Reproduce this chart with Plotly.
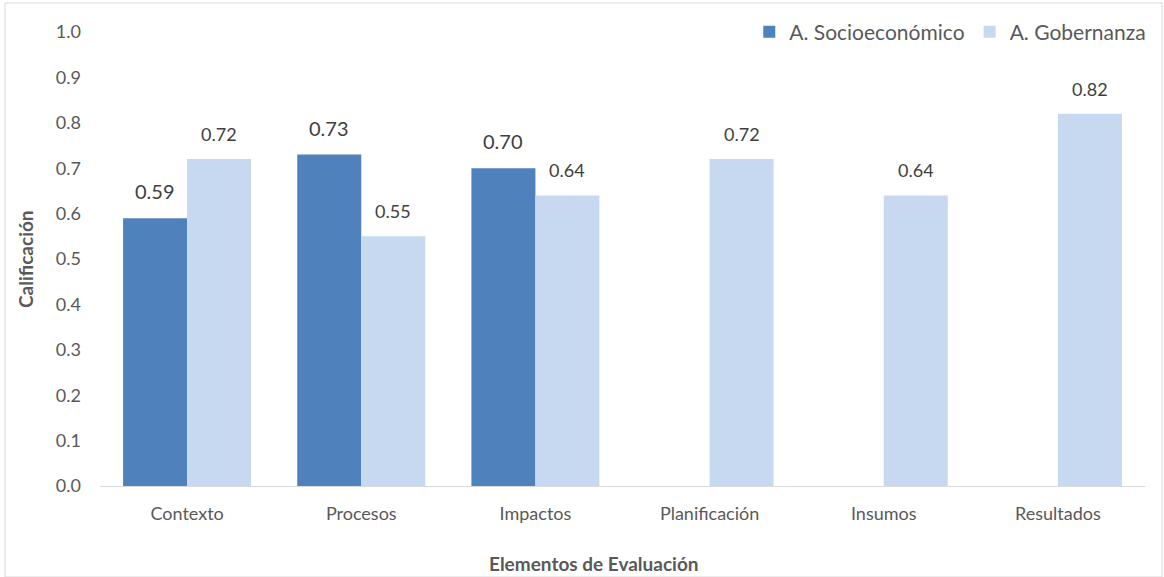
import plotly.graph_objects as go

# Evaluation elements and scores per area
categorias = ["Contexto", "Procesos", "Impactos", "Planificación", "Insumos", "Resultados"]
socioeconomico = [0.59, 0.73, 0.70, None, None, None]
gobernanza = [0.72, 0.55, 0.64, 0.72, 0.64, 0.82]
ticks_y = [0.0, 0.1, 0.2, 0.3, 0.4, 0.5, 0.6, 0.7, 0.8, 0.9, 1.0]

COLOR_SOC = "#4f81bd"
COLOR_GOB = "#c6d9f0"
TEXT = "#595959"
FONT = "Lato, 'Open Sans', sans-serif"

PLOT_W = 1164 - 100 - 19
PLOT_H = 577 - 32 - 91

fig = go.Figure()
fig.add_trace(go.Bar(name="A. Socioeconómico", x=categorias, y=socioeconomico,
                     marker=dict(color=COLOR_SOC, line=dict(width=0))))
fig.add_trace(go.Bar(name="A. Gobernanza", x=categorias, y=gobernanza,
                     marker=dict(color=COLOR_GOB, line=dict(width=0))))

# Value labels above each bar
annotations = []
for cat, v in zip(categorias, socioeconomico):
    if v is not None:
        annotations.append(dict(x=cat, y=v, text=f"{v:.2f}", showarrow=False,
                                xshift=-32, yshift=13, yanchor="bottom",
                                font=dict(size=20, color="#404040", family=FONT)))
for cat, v in zip(categorias, gobernanza):
    annotations.append(dict(x=cat, y=v, text=f"{v:.2f}", showarrow=False,
                            xshift=32, yshift=12, yanchor="bottom",
                            font=dict(size=18, color="#404040", family=FONT)))

# Axis titles
annotations.append(dict(xref="paper", yref="paper", x=(594 - 100) / PLOT_W,
                        y=-(563 - 486) / PLOT_H, xanchor="center", yanchor="middle",
                        text="<b>Elementos de Evaluación</b>", showarrow=False,
                        font=dict(size=19, color=TEXT, family=FONT)))
annotations.append(dict(xref="paper", yref="paper", x=-(100 - 25) / PLOT_W,
                        y=0.5, xanchor="center", yanchor="middle", textangle=-90,
                        text="<b>Calificación</b>", showarrow=False,
                        font=dict(size=19, color=TEXT, family=FONT)))

fig.update_layout(
    width=1164, height=577,
    margin=dict(l=100, r=19, t=32, b=91, autoexpand=False),
    paper_bgcolor="white", plot_bgcolor="white",
    barmode="group", bargap=0.265, bargroupgap=0,
    font=dict(family=FONT, color=TEXT, size=18),
    legend=dict(orientation="h", x=1.006, xanchor="right", y=1.0, yanchor="middle",
                font=dict(size=21, color=TEXT), itemwidth=30, traceorder="normal"),
    annotations=annotations,
    shapes=[dict(type="rect", xref="paper", yref="paper",
                 x0=-95 / PLOT_W, x1=(1162 - 100) / PLOT_W,
                 y0=-91 / PLOT_H, y1=1 + 29 / PLOT_H,
                 line=dict(color="#d9d9d9", width=1))],
)
fig.update_xaxes(showgrid=False, showline=True, linecolor="#d9d9d9", linewidth=1,
                 ticks="", ticklabelstandoff=11, tickfont=dict(size=18, color=TEXT),
                 automargin=False)
fig.update_yaxes(range=[0, 1.0], tickvals=ticks_y, tickformat=".1f", showgrid=False,
                 zeroline=False, showline=False, ticks="", ticklabelstandoff=18,
                 tickfont=dict(size=18, color=TEXT), automargin=False)

fig.write_html("out.html")
